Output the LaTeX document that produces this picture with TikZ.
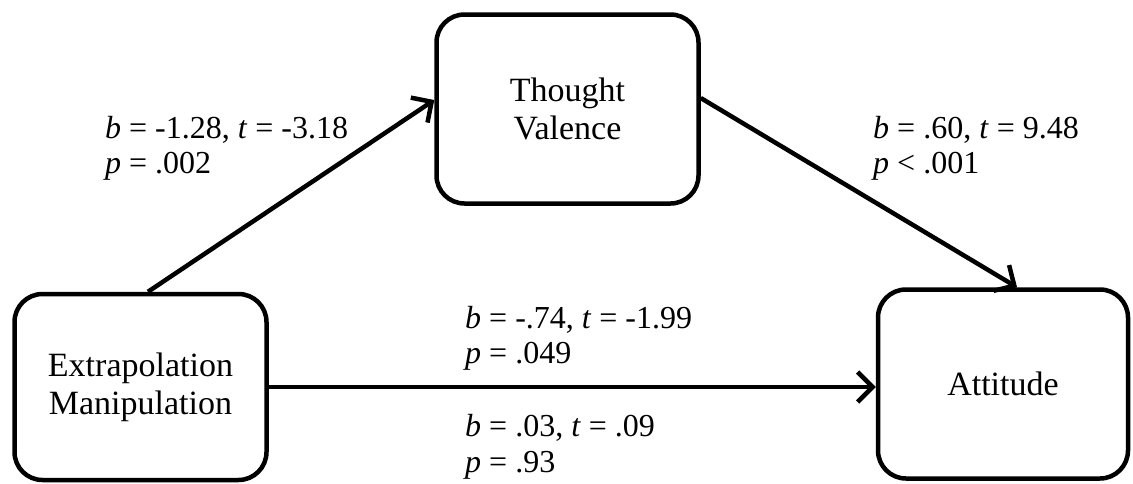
\documentclass[tikz,border=0pt]{standalone}
\usepackage{fontspec}
\setmainfont{Liberation Serif}
\usetikzlibrary{arrows.meta,calc}
\tikzset{
  box/.style={draw=black, line width=4.5pt, rounded corners=28pt, fill=white,
    align=center, inner sep=0pt, font=\fontsize{34}{38}\selectfont},
  lab/.style={anchor=base west, inner sep=0pt, font=\fontsize{32}{36}\selectfont},
  conn/.style={draw=black, line width=4.5pt, -{Straight Barb[length=15pt,width=30pt]}}
}
\begin{document}
\begin{tikzpicture}[x=1pt,y=-1pt]
\useasboundingbox (0,0) rectangle (1133,483);
\node[box, minimum width=252pt, minimum height=186pt] (ext) at (140.5,387) {Extrapolation\\Manipulation};
\node[box, minimum width=262pt, minimum height=189pt] (tv) at (567.5,109) {Thought\\Valence};
\node[box, minimum width=250pt, minimum height=189pt] (att) at (1003,384) {Attitude};

\draw[conn] ($(ext.north)+(7.5,0)$) -- ($(tv.west)+(0,-9)$);
\draw[conn] ($(tv.east)+(0,-11)$) -- ($(att.north)+(14,0)$);
\draw[conn] (ext.east) -- (ext.east -| att.west);

\node[lab] (a1) at (105,138) {\textit{b} = -1.28, \textit{t} = -3.18};
\node[lab] (a2) at (105,173) {\textit{p} = .002};
\node[lab] (b1) at (873,138) {\textit{b} = .60, \textit{t} = 9.48};
\node[lab] (b2) at (873,173) {\textit{p} < .001};
\node[lab] (c1) at (465,328) {\textit{b} = -.74, \textit{t} = -1.99};
\node[lab] (c2) at (465,363) {\textit{p} = .049};
\node[lab] (d1) at (465,436) {\textit{b} = .03, \textit{t} = .09};
\node[lab] (d2) at (465,472) {\textit{p} = .93};
\end{tikzpicture}
\end{document}
